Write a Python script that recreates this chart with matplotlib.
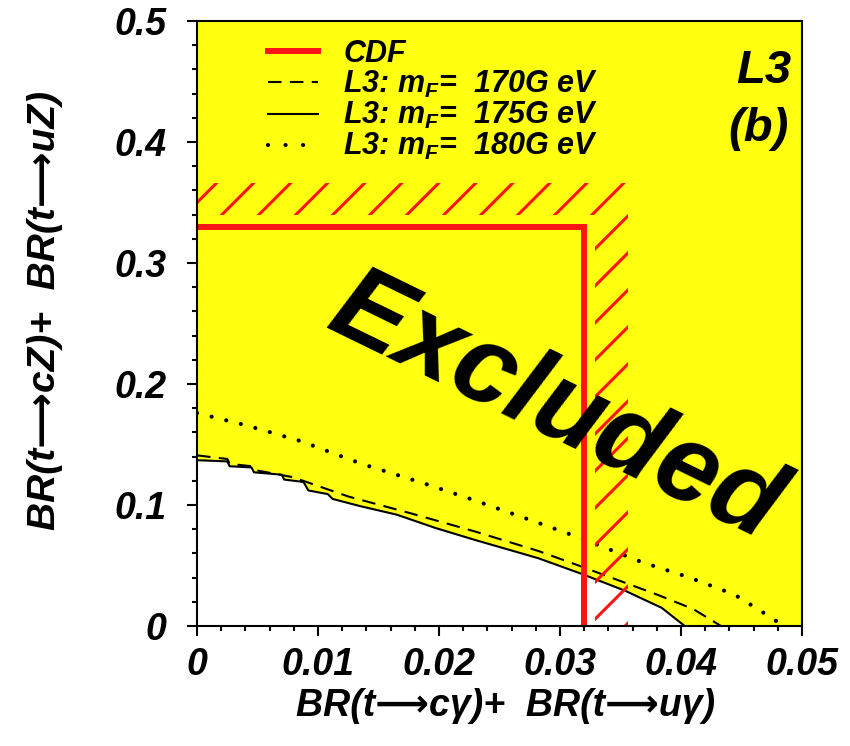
import numpy as np
import matplotlib as mpl
mpl.use('Agg')
import matplotlib.pyplot as plt
from matplotlib.lines import Line2D
from matplotlib.patches import Polygon
from matplotlib.ticker import MultipleLocator, FixedLocator, FixedFormatter

plt.rcParams['font.family'] = ['Liberation Sans', 'DejaVu Sans']
plt.rcParams['font.weight'] = 'bold'
plt.rcParams['font.style'] = 'italic'
plt.rcParams['mathtext.fontset'] = 'custom'
plt.rcParams['mathtext.it'] = 'Liberation Sans:bold:italic'
plt.rcParams['mathtext.rm'] = 'Liberation Sans:bold:italic'
plt.rcParams['mathtext.default'] = 'it'

# L3 limits, m_t = 175 GeV (solid, edge of excluded region)
x_175 = [0.0, 0.0025, 0.0027, 0.0045, 0.0047, 0.0070, 0.0072, 0.0088, 0.0092,
         0.0108, 0.0112, 0.0135, 0.0165, 0.0197, 0.0230, 0.0282, 0.0318,
         0.0354, 0.0384, 0.0403]
y_175 = [0.137, 0.136, 0.132, 0.131, 0.127, 0.125, 0.121, 0.119, 0.112,
         0.109, 0.105, 0.099, 0.092, 0.081, 0.071, 0.056, 0.043,
         0.029, 0.015, 0.0]

# m_t = 170 GeV (dashed)
x_170 = [0.0, 0.0025, 0.0027, 0.0045, 0.0047, 0.0079, 0.0125, 0.0177, 0.0230,
         0.0282, 0.0318, 0.0334, 0.0380, 0.0410, 0.0433]
y_170 = [0.141, 0.138, 0.134, 0.132, 0.129, 0.123, 0.107, 0.093, 0.078,
         0.062, 0.049, 0.043, 0.026, 0.014, 0.0]

# m_t = 180 GeV (dotted)
x_180 = [0.0, 0.0040, 0.0085, 0.0136, 0.0187, 0.0226, 0.0277, 0.0316, 0.0367,
         0.0407, 0.0444, 0.0468, 0.0485]
y_180 = [0.176, 0.166, 0.153, 0.134, 0.118, 0.105, 0.087, 0.073, 0.053,
         0.040, 0.026, 0.011, 0.0]

# CDF limit
cdf_x = 0.032
cdf_y = 0.33

x_ticks = [0, 0.01, 0.02, 0.03, 0.04, 0.05]
x_tick_labels = ['0', '0.01', '0.02', '0.03', '0.04', '0.05']
y_ticks = [0, 0.1, 0.2, 0.3, 0.4, 0.5]
y_tick_labels = ['0', '0.1', '0.2', '0.3', '0.4', '0.5']

legend_labels = ['CDF', 'L3: m$_F$=  170G eV', 'L3: m$_F$=  175G eV',
                 'L3: m$_F$=  180G eV']

yellow = '#ffff10'
red = '#ff1414'

fig = plt.figure(figsize=(8.5, 7.46), dpi=100)
ax = fig.add_axes([0.2318, 0.1609, 0.7118, 0.811])
ax.set_xlim(0, 0.05)
ax.set_ylim(0, 0.5)
ax.set_facecolor('white')

# excluded region: everything above the 175 GeV curve
fx = x_175 + [0.05, 0.05, 0.0]
fy = y_175 + [0.0, 0.5, 0.5]
ax.fill(fx, fy, color=yellow, lw=0, zorder=0)

ax.plot(x_175, y_175, color='black', lw=1.5, zorder=3)
ax.plot(x_170, y_170, color='black', lw=1.5, dashes=(6.5, 4), zorder=3)
ax.plot(x_180, y_180, color='black', lw=3.0, dashes=(0.01, 3.6),
        dash_capstyle='round', zorder=3)

# CDF limit with hatched band
ax.plot([0, cdf_x, cdf_x], [cdf_y, cdf_y, 0], color=red, lw=4.3,
        solid_joinstyle='miter', zorder=4)
band = Polygon([(0, cdf_y + 0.010), (cdf_x + 0.0009, cdf_y + 0.010),
                (cdf_x + 0.0009, 0), (cdf_x + 0.0036, 0),
                (cdf_x + 0.0036, cdf_y + 0.036), (0, cdf_y + 0.036)],
               closed=True, facecolor='none', edgecolor='none')
ax.add_patch(band)
for k in range(-25, 5):
    b = 0.6387 + 0.0612 * k
    ln, = ax.plot([0, 1], [b, 1 + b], transform=ax.transAxes, color=red,
                  lw=2.2, solid_capstyle='butt', zorder=4)
    ln.set_clip_path(band)

ax.text(0.0296, 0.180, 'Excluded', fontsize=79, rotation=-26,
        rotation_mode='anchor', ha='center', va='center', zorder=5)

ax.text(0.982, 0.918, 'L3', transform=ax.transAxes, ha='right', va='center',
        fontsize=34)
ax.text(0.978, 0.822, '(b)', transform=ax.transAxes, ha='right', va='center',
        fontsize=34)

handles = [Line2D([], [], color=red, lw=4.3),
           Line2D([], [], color='black', lw=1.5, dashes=(6.5, 4)),
           Line2D([], [], color='black', lw=1.5),
           Line2D([], [], color='black', lw=3.0, dashes=(0.01, 4.2),
                  dash_capstyle='round')]
ax.legend(handles, legend_labels, loc='upper left',
          bbox_to_anchor=(0.117, 0.970), frameon=False, fontsize=22,
          handlelength=1.65, handletextpad=0.82, labelspacing=0.0,
          borderaxespad=0, borderpad=0)

ax.xaxis.set_major_locator(FixedLocator(x_ticks))
ax.xaxis.set_major_formatter(FixedFormatter(x_tick_labels))
ax.yaxis.set_major_locator(FixedLocator(y_ticks))
ax.yaxis.set_major_formatter(FixedFormatter(y_tick_labels))
ax.xaxis.set_minor_locator(MultipleLocator(0.002))
ax.yaxis.set_minor_locator(MultipleLocator(0.02))
ax.tick_params(which='both', direction='out', width=1.5, top=False,
               right=False, labelsize=27)
ax.tick_params(which='major', length=7.2)
ax.tick_params(which='minor', length=3.6)
ax.tick_params(axis='y', which='major', pad=15)
ax.tick_params(axis='x', which='major', pad=8)
for s in ax.spines.values():
    s.set_linewidth(1.5)
    s.set_zorder(6)

fig.text(0.595, 0.053, 'BR(t⟶cγ)+  BR(t⟶uγ)', ha='center', va='center',
         fontsize=27)
fig.text(0.053, 0.584, 'BR(t⟶cZ)+  BR(t⟶uZ)', ha='center', va='center',
         rotation=90, fontsize=28)

fig.savefig('out.png', dpi=100)
